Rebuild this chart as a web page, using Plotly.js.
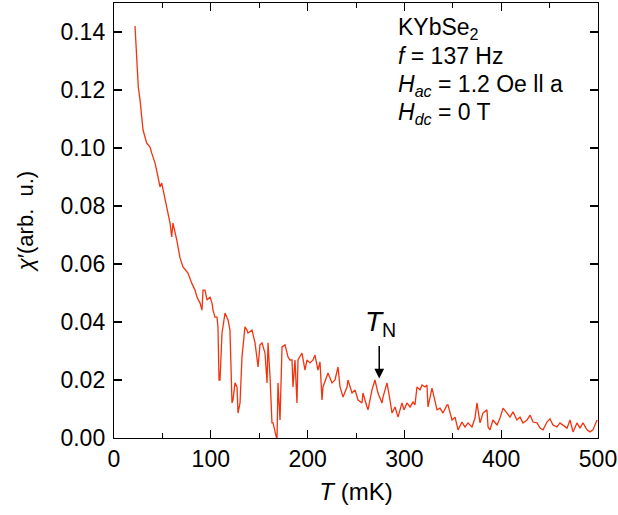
<!DOCTYPE html>
<html>
<head>
<meta charset="utf-8">
<script src="https://cdn.plot.ly/plotly-3.0.1.min.js"></script>
<style>html,body{margin:0;padding:0;background:#fff;}#chart{width:618px;height:515px;}</style>
</head>
<body>
<div id="chart"></div>
<script>
// Temperature (mK)
const T_mK = [
21.7,23.8,25.1,26.9,28.6,30.0,33.8,37.2,38.9,42.4,45.5,47.5,49.3,52.7,55.8,57.9,59.6,60.9,64.8,68.2,71.3,76.4,80.3,83.7,
85.7,88.8,90.9,91.9,94.0,96.1,99.2,101.2,102.3,104.3,106.4,107.4,108.5,109.5,111.6,114.7,117.8,119.8,121.9,122.9,125.0,127.1,128.1,130.2,132.2,135.3,137.4,138.4,142.6,145.7,148.8,150.8,152.9,156.0,158.1,159.1,161.2,163.2,164.3,166.3,168.4,169.4,171.5,173.6,176.7,179.8,181.8,183.9,184.9,187.0,189.0,190.1,194.2,197.3,
199.4,202.5,205.6,207.6,210.7,212.8,214.9,215.9,220.0,221.1,225.2,228.3,231.4,233.5,236.6,240.7,241.7,245.9,249.0,252.1,256.2,257.2,261.4,262.4,266.5,269.6,272.7,276.9,277.9,282.0,285.1,287.2,290.3,293.4,297.5,299.6,
302.7,305.8,308.9,310.9,313.0,316.1,318.2,321.3,323.3,324.4,328.5,329.5,333.7,336.8,339.9,344.0,345.0,349.2,352.3,355.4,359.5,362.6,365.7,369.8,372.9,375.0,378.1,381.2,385.3,386.4,388.4,391.5,395.7,398.8,401.9,406.0,409.1,
412.2,416.3,419.4,422.5,426.7,429.8,432.9,437.0,440.1,443.2,447.3,450.4,453.5,457.6,460.7,463.8,468.0,471.1,474.2,478.3,481.4,484.5,488.6,491.7,494.8,499.0
];
// Real part of ac susceptibility (arb. u.)
const chiPrime = [
0.1421,0.1303,0.1210,0.1166,0.1107,0.1062,0.1017,0.1003,0.0983,0.0948,0.0900,0.0866,0.0879,0.0821,0.0776,0.0741,0.0693,0.0741,0.0683,0.0621,0.0590,0.0569,0.0534,0.0510,
0.0486,0.0466,0.0441,0.0510,0.0510,0.0476,0.0486,0.0466,0.0441,0.0417,0.0417,0.0383,0.0200,0.0200,0.0362,0.0431,0.0407,0.0372,0.0121,0.0131,0.0190,0.0176,0.0086,0.0121,0.0279,0.0383,0.0372,0.0362,0.0372,0.0328,0.0245,0.0321,0.0328,0.0293,0.0190,0.0328,0.0210,0.0052,0.0052,0.0028,-0.0007,0.0190,0.0062,0.0314,0.0321,0.0279,0.0269,0.0269,0.0176,0.0269,0.0121,0.0269,0.0293,0.0234,
0.0269,0.0259,0.0269,0.0286,0.0234,0.0262,0.0131,0.0176,0.0210,0.0224,0.0190,0.0200,0.0245,0.0176,0.0141,0.0176,0.0200,0.0155,0.0166,0.0131,0.0121,0.0155,0.0107,0.0097,0.0166,0.0200,0.0155,0.0121,0.0141,0.0190,0.0131,0.0086,0.0107,0.0072,0.0121,0.0097,
0.0121,0.0107,0.0124,0.0114,0.0176,0.0166,0.0183,0.0176,0.0183,0.0107,0.0172,0.0155,0.0097,0.0103,0.0086,0.0114,0.0114,0.0062,0.0072,0.0028,0.0055,0.0038,0.0052,0.0038,0.0069,0.0121,0.0052,0.0086,0.0097,0.0038,0.0028,0.0062,0.0045,0.0069,0.0103,0.0086,0.0072,
0.0090,0.0062,0.0072,0.0052,0.0062,0.0079,0.0055,0.0052,0.0034,0.0028,0.0055,0.0066,0.0045,0.0038,0.0052,0.0045,0.0034,0.0062,0.0021,0.0052,0.0034,0.0052,0.0028,0.0021,0.0028,0.0062
];
const xTicks = [0, 100, 200, 300, 400, 500];
const yTicks = [0, 0.02, 0.04, 0.06, 0.08, 0.10, 0.12, 0.14];
const infoLines = ["KYbSe<sub>2</sub>", "<i>f</i> = 137 Hz", "<i>H</i><sub><i>ac</i></sub> = 1.2 Oe ll a", "<i>H</i><sub><i>dc</i></sub> = 0 T"];
const TN = 272;

const FONT = "'Liberation Sans', Arial, Helvetica, sans-serif";

const trace = {
  x: T_mK, y: chiPrime, type: 'scatter', mode: 'lines',
  line: {color: '#f2330e', width: 1.3}, hoverinfo: 'skip'
};

const annotations = infoLines.map((t, i) => ({
  xref: 'paper', yref: 'paper', x: 0.585, y: 0.976 - i*0.065,
  xanchor: 'left', yanchor: 'top', align: 'left', text: t, showarrow: false,
  borderpad: 0,
  font: {family: FONT, size: 23, color: '#000'}
}));
annotations.push({
  x: TN + 3, y: 0.0395, xref: 'x', yref: 'y', text: '<i>T</i><sub>N</sub>',
  showarrow: false, font: {family: FONT, size: 28, color: '#000'}, xanchor: 'center', yanchor: 'middle'
});
annotations.push({
  x: TN + 2, y: 0.0205, xref: 'x', yref: 'y', ax: TN + 2, ay: 0.0322, axref: 'x', ayref: 'y',
  text: '', showarrow: true, arrowhead: 2, arrowsize: 1.3, arrowwidth: 1.5, arrowcolor: '#000', standoff: 0
});

const axisCommon = {
  showgrid: false, zeroline: false, showline: true, linecolor: '#000', linewidth: 1.2,
  mirror: 'ticks', ticks: 'inside', tickcolor: '#000', tickwidth: 1.2, ticklen: 8,
  tickfont: {family: FONT, size: 23, color: '#000'}
};

const layout = {
  width: 618, height: 515,
  margin: {l: 114, r: 20, t: 3, b: 77},
  paper_bgcolor: '#fff', plot_bgcolor: '#fff',
  showlegend: false,
  font: {family: FONT, color: '#000'},
  xaxis: Object.assign({}, axisCommon, {
    range: [0, 500], tickvals: xTicks, ticktext: xTicks.map(String),
    minor: {dtick: 50, ticks: 'inside', ticklen: 5, tickcolor: '#000', tickwidth: 1},
    ticklabelstandoff: 0,
    title: {text: '<i>T</i> (mK)', font: {family: FONT, size: 24}, standoff: 12}
  }),
  yaxis: Object.assign({}, axisCommon, {
    range: [0, 0.15], tickvals: yTicks, ticktext: yTicks.map(v => v.toFixed(2)),
    ticklabelstandoff: 3,
    title: {text: '<i>χ</i>′(arb.  u.)', font: {family: FONT, size: 22}, standoff: 20}
  }),
  annotations: annotations
};

Plotly.newPlot('chart', [trace], layout, {staticPlot: true, displayModeBar: false});
</script>
</body>
</html>
